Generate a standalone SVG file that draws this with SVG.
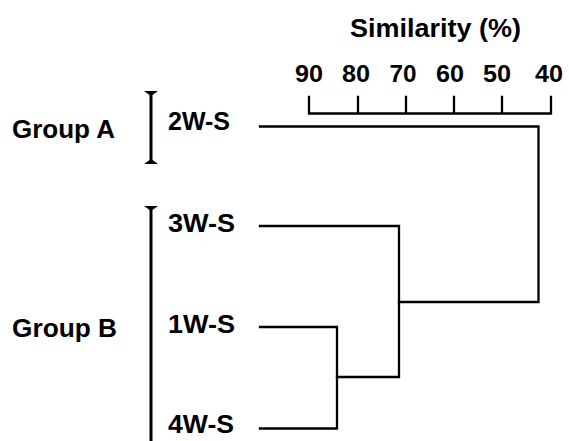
<svg xmlns="http://www.w3.org/2000/svg" width="569" height="441" viewBox="0 0 569 441">
<style>
text{font-family:"Liberation Sans",Arial,Helvetica,sans-serif;font-weight:bold;fill:#000}
.lbl{font-size:25px}
.num{font-size:23.5px;text-anchor:middle}
.ln{fill:none;stroke:#000;stroke-width:2.3;stroke-linecap:square;stroke-linejoin:miter}
.br{fill:none;stroke:#000;stroke-width:3}
</style>
<rect width="569" height="441" fill="#fff"/>
<g id="title"><text x="350" y="37" style="font-size:26px" textLength="171" lengthAdjust="spacingAndGlyphs">Similarity (%)</text></g>
<g id="axis">
<text class="num" x="309" y="82" textLength="28" lengthAdjust="spacingAndGlyphs">90</text>
<text class="num" x="356" y="82" textLength="28" lengthAdjust="spacingAndGlyphs">80</text>
<text class="num" x="403" y="82" textLength="27" lengthAdjust="spacingAndGlyphs">70</text>
<text class="num" x="450" y="82" textLength="28" lengthAdjust="spacingAndGlyphs">60</text>
<text class="num" x="497" y="82" textLength="28" lengthAdjust="spacingAndGlyphs">50</text>
<text class="num" x="549" y="82" textLength="28" lengthAdjust="spacingAndGlyphs">40</text>
<path class="ln" d="M309,97V113.5H551V97M358,97V113.5M406,97V113.5M454,97V113.5M502,97V113.5"/>
</g>
<g id="groupA">
<text class="lbl" x="12" y="138" textLength="103" lengthAdjust="spacingAndGlyphs">Group A</text>
<path class="br" d="M151,92V163"/>
<path d="M144,91H158L151,96ZM144,164H158L151,159Z" fill="#000"/>
</g>
<g id="groupB">
<text class="lbl" x="12" y="337" textLength="105" lengthAdjust="spacingAndGlyphs">Group B</text>
<path class="br" d="M151,207V441"/>
<path d="M144,206H158L151,211Z" fill="#000"/>
</g>
<g id="n2W"><text class="lbl" x="168" y="130" textLength="62" lengthAdjust="spacingAndGlyphs">2W-S</text></g>
<g id="n3W"><text class="lbl" x="168" y="232" textLength="67" lengthAdjust="spacingAndGlyphs">3W-S</text></g>
<g id="n1W"><text class="lbl" x="168" y="333" textLength="67" lengthAdjust="spacingAndGlyphs">1W-S</text></g>
<g id="n4W"><text class="lbl" x="168" y="433" textLength="66" lengthAdjust="spacingAndGlyphs">4W-S</text></g>
<g id="connectors">
<path class="ln" d="M260,126.5H538.5V302H399"/>
<path class="ln" d="M260,226H399V377H337"/>
<path class="ln" d="M260,327H337V428.5H260"/>
</g>
</svg>
